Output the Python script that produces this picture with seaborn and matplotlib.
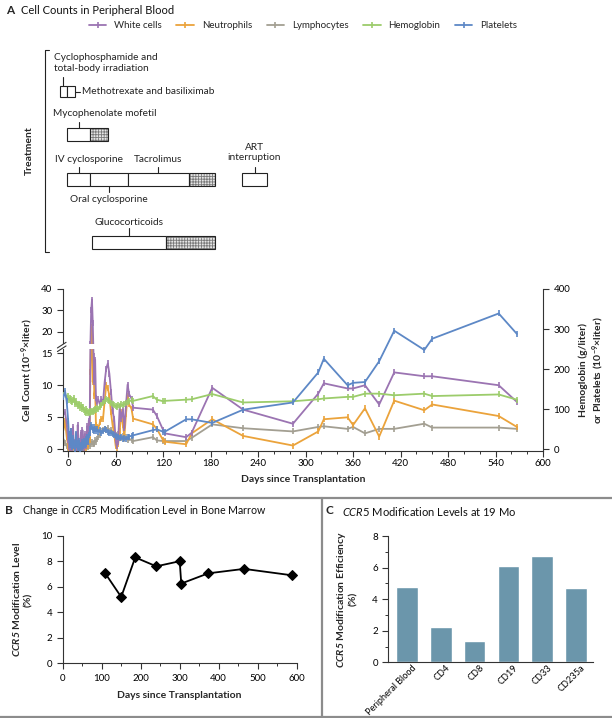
import numpy as np
import pandas as pd
import matplotlib
matplotlib.use("Agg")
import matplotlib.pyplot as plt
import matplotlib.patches as mpatches
import matplotlib.lines as mlines
import matplotlib.transforms as mtrans
from matplotlib.ticker import MultipleLocator, NullLocator
import seaborn as sns

# ---------------- data ----------------
days = [-6, -4, -2, 0, 1, 2, 3, 4, 5, 6, 7, 8, 9, 10, 11, 12, 13, 14, 15, 16,
        17, 18, 19, 20, 21, 22, 23, 24, 25, 26, 27, 28, 29, 30, 31, 32, 33, 34,
        35, 36, 38, 40, 42, 44, 46, 48, 50, 52, 54, 56, 58, 60, 61, 63, 65, 67,
        69, 71, 73, 75, 77, 80, 82,
        107, 112, 120, 122, 149, 156, 182, 221, 284, 316, 323, 353, 360, 375,
        393, 412, 450, 460, 544, 567]

white_cells = [5.6, 5.8, 4.0, 1.5, 0.3, 0.1, 2.8, 0.4, 0.1, 3.5, 1.2, 0.2, 0.1,
               2.2, 0.2, 3.8, 1.0, 0.2, 0.1, 2.6, 0.3, 3.0, 0.6, 0.2, 2.4, 0.5,
               1.8, 3.6, 1.2, 4.5, 2.5, 17.0, 30.0, 35.0, 24.0, 14.5, 10.5, 14.0,
               8.0, 7.2, 7.8, 7.0, 7.8, 7.4, 10.5, 12.6, 13.4, 11.8, 9.0, 6.0,
               4.8, 1.5, 0.6, 1.2, 6.6, 4.8, 6.2, 3.3, 7.0, 10.1, 8.6, 7.9, 6.5,
               6.2, 5.2, 3.0, 2.5, 1.9, 2.6, 9.6, 6.2, 4.0, 8.7, 10.3, 9.5, 9.5,
               10.0, 7.0, 12.0, 11.4, 11.4, 10.0, 7.4]

neutrophils = [3.0, 4.5, 2.0, 0.4, 0.1, 0.0, 1.5, 0.1, 0.0, 2.0, 0.3, 0.0, 0.0,
               1.0, 0.0, 2.2, 0.3, 0.0, 0.0, 1.2, 0.1, 1.8, 0.2, 0.0, 1.2, 0.2,
               0.8, 2.2, 0.6, 3.0, 1.5, 12.0, 20.0, 22.0, 10.5, 12.5, 8.4, 9.5,
               3.8, 3.5, 3.3, 4.2, 4.8, 4.8, 7.5, 10.0, 9.5, 8.4, 5.8, 3.8,
               2.5, 0.5, 0.2, 0.8, 2.8, 5.8, 3.8, 2.0, 5.5, 8.4, 7.0, 6.3, 4.8,
               3.9, 3.2, 1.4, 1.2, 0.8, 2.5, 4.7, 2.1, 0.6, 2.8, 4.7, 5.0, 3.8,
               6.4, 2.0, 7.6, 6.1, 7.0, 5.2, 3.5]

lymphocytes = [1.6, 1.0, 0.5, 0.2, 0.1, 0.1, 0.3, 0.1, 0.1, 0.4, 0.2, 0.1, 0.1,
               0.3, 0.1, 0.4, 0.2, 0.1, 0.1, 0.3, 0.1, 0.4, 0.2, 0.1, 0.4, 0.3,
               0.5, 0.6, 0.4, 0.8, 0.6, 1.0, 0.8, 1.2, 0.9, 1.0, 0.8, 1.4,
               1.2, 1.6, 2.0, 2.3, 2.8, 3.0, 3.2, 3.0, 3.3, 2.8, 3.1, 2.6,
               2.8, 2.3, 2.0, 2.4, 2.0, 1.8, 2.1, 1.6, 1.9, 1.5, 1.7, 1.4, 1.3,
               1.9, 1.4, 1.3, 1.3, 1.3, 1.8, 3.9, 3.3, 2.8, 3.5, 3.6, 3.2, 3.5,
               2.5, 3.2, 3.2, 4.0, 3.4, 3.4, 3.2]

hemoglobin = [136, 140, 128, 132, 124, 128, 120, 126, 118, 122, 128, 118, 112,
              120, 114, 108, 114, 110, 104, 110, 106, 100, 106, 98, 94, 100,
              92, 96, 90, 94, 92, 95, 93, 96, 94, 98, 96, 100, 98, 102, 100,
              106, 110, 116, 120, 126, 124, 120, 116, 114, 110, 108, 106, 110,
              108, 112, 110, 114, 116, 118, 120, 122, 121,
              133, 124, 120, 121, 124, 125, 138, 117, 120, 125, 127, 131, 131,
              139, 139, 135, 139, 133, 137, 124]

platelets = [130, 145, 120, 70, 30, 12, 45, 15, 5, 28, 8, 2, 15, 38, 10, 3, 22,
             6, 2, 12, 4, 18, 8, 20, 10, 25, 14, 30, 18, 35, 42, 50, 60, 56,
             48, 55, 45, 52, 46, 50, 44, 48, 42, 46, 50, 48, 44, 40, 42, 38,
             36, 34, 30, 32, 28, 30, 26, 28, 26, 30, 32, 34, 35,
             48, 50, 44, 44, 75, 75, 66, 99, 117, 192, 226, 160, 166, 168,
             220, 296, 248, 276, 339, 288]

# treatment bars (days since transplantation)
tx_label = ["Cyclophosphamide and\ntotal-body irradiation",
            "Methotrexate and basiliximab", "Mycophenolate mofetil",
            "IV cyclosporine", "Oral cyclosporine", "Tacrolimus",
            "ART\ninterruption", "Glucocorticoids"]
tx_start = [-11, -1, -1, -1, 27, 76, 220, 30]
tx_end = [-1, 9, 27, 27, 76, 152, 251, 124]
tx_taper_end = [None, None, 50, None, None, 186, None, 186]

# panel B
marrow_day = [108, 150, 186, 240, 300, 304, 373, 465, 587]
marrow_level = [7.1, 5.2, 8.3, 7.6, 8.0, 6.25, 7.05, 7.4, 6.9]

# panel C
cell_types = ["Peripheral Blood", "CD4", "CD8", "CD19", "CD33", "CD235a"]
efficiency = [4.8, 2.25, 1.35, 6.1, 6.75, 4.7]

# ---------------- style ----------------
sns.set_style("ticks")
plt.rcParams.update({
    "font.family": ["Lato", "DejaVu Sans"],
    "font.size": 7,
    "mathtext.fontset": "custom",
    "mathtext.default": "regular",
    "mathtext.rm": "Lato",
    "mathtext.it": "Lato:italic",
    "mathtext.bf": "Lato:italic:bold",
    "axes.edgecolor": "#333333",
    "axes.linewidth": 0.8,
    "xtick.color": "#333333",
    "ytick.color": "#333333",
    "xtick.labelcolor": "black",
    "ytick.labelcolor": "black",
    "xtick.labelsize": 7,
    "ytick.labelsize": 7,
    "xtick.major.size": 4,
    "ytick.major.size": 4,
    "xtick.minor.size": 2.5,
    "ytick.minor.size": 2.5,
    "xtick.major.width": 0.8,
    "ytick.major.width": 0.8,
    "xtick.minor.width": 0.7,
    "ytick.minor.width": 0.7,
    "hatch.linewidth": 0.6,
})

colors = {"White cells": "#9b74b2", "Neutrophils": "#eba33b",
          "Lymphocytes": "#a39f92", "Hemoglobin": "#9ccc6b",
          "Platelets": "#5d88c6"}

W, H = 612, 718
fig = plt.figure(figsize=(6.12, 7.18), dpi=100)


def fx(px):
    return px / W


def fy(py):
    return 1 - py / H


df = pd.DataFrame({"day": days, "White cells": white_cells,
                   "Neutrophils": neutrophils, "Lymphocytes": lymphocytes,
                   "Hemoglobin": hemoglobin, "Platelets": platelets})

# ---------------- panel A: main chart ----------------
ax = fig.add_axes([fx(62.7), fy(451), fx(543) - fx(62.7), (451 - 289) / H])
ax2 = ax.twinx()

line_kw = dict(marker="|", markersize=4.5, markeredgewidth=1.2, linewidth=1.3,
               sort=False, estimator=None, legend=False)
for name in ["Lymphocytes", "Neutrophils", "White cells"]:
    sns.lineplot(data=df, x="day", y=name, ax=ax, color=colors[name],
                 markeredgecolor=colors[name], **line_kw)
for name in ["Hemoglobin", "Platelets"]:
    sns.lineplot(data=df, x="day", y=name, ax=ax2, color=colors[name],
                 markeredgecolor=colors[name], **line_kw)

# broken left axis: 0-15 linear, then compressed 20-40
brk_v = [-10, 0, 15, 20, 40, 100]
brk_r = [-160, 0, 240, 294, 400, 718]


def fwd(v):
    return np.interp(v, brk_v, brk_r)


def inv(r):
    return np.interp(r, brk_r, brk_v)


ax.set_yscale("function", functions=(fwd, inv))
ax.set_ylim(inv(-4), 40)
ax.set_yticks([0, 5, 10, 15, 20, 30, 40])
ax.yaxis.set_minor_locator(NullLocator())
ax2.set_ylim(-4, 400)
ax2.set_yticks([0, 100, 200, 300, 400])
ax2.yaxis.set_minor_locator(NullLocator())

ax.set_xlim(-7, 600)
ax.set_xticks(np.arange(0, 601, 60))
ax.xaxis.set_minor_locator(MultipleLocator(20))
ax.tick_params(axis="x", which="both", pad=2)
for a in (ax, ax2):
    a.spines["top"].set_visible(False)
ax.spines["right"].set_visible(False)
ax2.spines["left"].set_visible(False)
ax2.spines["bottom"].set_visible(False)

ax.set_xlabel("Days since Transplantation", fontsize=7.5, fontweight="bold",
              labelpad=5)
ax.set_ylabel("Cell Count (10$^{-9}$×liter)", fontsize=7.5,
              fontweight="bold", labelpad=4)
ax2.set_ylabel("Hemoglobin (g/liter)\nor Platelets (10$^{-9}$×liter)",
               fontsize=7.5, fontweight="bold", labelpad=6)

# white gap (only across the early spike) and slashes marking the axis break
blend = mtrans.blended_transform_factory(ax2.transAxes, ax2.transData)
ax2.add_patch(mpatches.Rectangle((-0.02, 250), 0.17, 14, transform=blend,
                                 facecolor="white", edgecolor="none",
                                 zorder=2.4, clip_on=False))
for off in (0, 9):
    ax2.add_line(mlines.Line2D([-0.011, 0.007], [244 + off, 258 + off],
                               transform=blend, color="#333333", lw=0.8,
                               clip_on=False, zorder=3))

# legend
handles = [mlines.Line2D([], [], color=colors[n], marker="|", markersize=4.5,
                         markeredgewidth=1.2, lw=1.3) for n in colors]
fig.legend(handles, list(colors), loc="center",
           bbox_to_anchor=(fx(303), fy(25.5)), ncol=5, frameon=False,
           fontsize=7, handlelength=1.8, handletextpad=0.8,
           columnspacing=1.5)

# ---------------- panel A: treatment schedule ----------------
axt = fig.add_axes([fx(62.7), fy(252), fx(543) - fx(62.7), (252 - 50) / H])
axt.set_xlim(-7, 600)
axt.set_ylim(252, 50)
axt.axis("off")

rows = [(85.7, 97.3), (85.7, 97.3), (128.3, 141), (172.7, 185.7),
        (172.7, 185.7), (172.7, 185.7), (172.7, 185.7), (235.7, 249)]
for i in range(len(tx_label)):
    y0, y1 = rows[i]
    axt.add_patch(mpatches.Rectangle((tx_start[i], y0), tx_end[i] - tx_start[i],
                                     y1 - y0, facecolor="white",
                                     edgecolor="#222222", lw=0.8,
                                     clip_on=False))
    if tx_taper_end[i] is not None:
        axt.add_patch(mpatches.Rectangle((tx_end[i], y0),
                                         tx_taper_end[i] - tx_end[i], y1 - y0,
                                         facecolor="#e6e6e6", edgecolor="#7a7a7a",
                                         hatch="++++++", lw=0, clip_on=False))
        axt.add_patch(mpatches.Rectangle((tx_end[i], y0),
                                         tx_taper_end[i] - tx_end[i], y1 - y0,
                                         fill=False, edgecolor="#222222",
                                         lw=0.8, clip_on=False))

tk = dict(color="#222222", lw=0.8, clip_on=False)
txt = dict(fontsize=7.3, color="#222222", clip_on=False)


def mid(i):
    return (tx_start[i] + tx_end[i]) / 2


# cyclophosphamide
axt.plot([-6.3, -6.3], [76.7, 85.7], **tk)
axt.text(-18, 63, tx_label[0], ha="left", va="center", linespacing=1.25, **txt)
# methotrexate
axt.plot([tx_end[1], 14.5], [91.5, 91.5], **tk)
axt.text(18, 91.5, tx_label[1], ha="left", va="center", **txt)
# mycophenolate
axt.plot([mid(2), mid(2)], [121.7, 128.3], **tk)
axt.text(-19, 114, tx_label[2], ha="left", va="center", **txt)
# IV cyclosporine
axt.plot([mid(3), mid(3)], [166.7, 172.7], **tk)
axt.text(-16.8, 159, tx_label[3], ha="left", va="center", **txt)
# oral cyclosporine
axt.plot([mid(4), mid(4)], [185.7, 191.7], **tk)
axt.text(2, 199.3, tx_label[4], ha="left", va="center", **txt)
# tacrolimus
axt.plot([mid(5), mid(5)], [166.7, 172.7], **tk)
axt.text(83.4, 159, tx_label[5], ha="left", va="center", **txt)
# ART interruption
axt.plot([mid(6), mid(6)], [166.7, 172.7], **tk)
axt.text(mid(6), 152.5, tx_label[6], ha="center", va="center",
         linespacing=1.25, **txt)
# glucocorticoids
axt.plot([mid(7), mid(7)], [228, 235.7], **tk)
axt.text(33.7, 222.7, tx_label[7], ha="left", va="center", **txt)

# bracket + label
axt.plot([-23.7, -29.4, -29.4, -23.7], [50, 50, 252, 252], **tk)
axt.text(-48.5, 151, "Treatment", rotation=90, ha="center", va="center",
         fontsize=7.5, fontweight="bold", clip_on=False)

# panel A title
fig.text(fx(6), fy(11), "A", fontsize=8.5, fontweight="bold", va="center")
fig.text(fx(21), fy(11), "Cell Counts in Peripheral Blood", fontsize=8,
         va="center", color="#111111")

# ---------------- panel B ----------------
axb = fig.add_axes([fx(62.7), fy(663.3), fx(296.7) - fx(62.7),
                    (663.3 - 535.7) / H])
sns.lineplot(x=marrow_day, y=marrow_level, ax=axb, color="black", marker="D",
             markersize=5, markeredgecolor="black", linewidth=1.3,
             sort=False, estimator=None)
axb.set_xlim(0, 600)
axb.set_ylim(0, 10)
axb.set_xticks(np.arange(0, 601, 100))
axb.xaxis.set_minor_locator(MultipleLocator(50))
axb.set_yticks(np.arange(0, 11, 2))
axb.spines["top"].set_visible(False)
axb.spines["right"].set_visible(False)
axb.set_xlabel("Days since Transplantation", fontsize=7.5, fontweight="bold",
               labelpad=6)
axb.set_ylabel("$\\mathbf{CCR5}$ Modification Level\n(%)", fontsize=7.5,
               fontweight="bold", labelpad=6)
fig.text(fx(5), fy(510), "B", fontsize=8.5, fontweight="bold", va="center")
fig.text(fx(21.5), fy(510),
         "Change in $\\mathit{CCR5}$ Modification Level in Bone Marrow",
         fontsize=7.7, va="center", color="#111111")

# ---------------- panel C ----------------
axc = fig.add_axes([fx(388.3), fy(662.3), fx(593) - fx(388.3),
                    (662.3 - 536) / H])
sns.barplot(x=cell_types, y=efficiency, ax=axc, color="#6b96ab",
            saturation=1, width=0.64)
axc.set_xlim(-0.55, 5.5)
axc.set_ylim(0, 8)
axc.set_yticks(np.arange(0, 9, 2))
axc.yaxis.set_minor_locator(MultipleLocator(1))
axc.spines["top"].set_visible(False)
axc.spines["right"].set_visible(False)
axc.tick_params(axis="x", length=0, pad=3)
shift = mtrans.ScaledTranslation(0.08, 0.0, fig.dpi_scale_trans)
for lab in axc.get_xticklabels():
    lab.set_rotation(45)
    lab.set_ha("right")
    lab.set_va("center")
    lab.set_rotation_mode("anchor")
    lab.set_fontsize(6.6)
    lab.set_transform(lab.get_transform() + shift)
axc.set_ylabel("$\\mathbf{CCR5}$ Modification Efficiency\n(%)", fontsize=7.5,
               fontweight="bold", labelpad=10)
fig.text(fx(326), fy(511), "C", fontsize=8.5, fontweight="bold", va="center")
fig.text(fx(342), fy(511), "$\\mathit{CCR5}$ Modification Levels at 19 Mo",
         fontsize=8, va="center", color="#111111")

# panel frame lines
frame = dict(color="#8c8c8c", lw=1.6)
fig.add_artist(mlines.Line2D([0, 1], [fy(498), fy(498)], **frame))
fig.add_artist(mlines.Line2D([fx(322), fx(322)], [fy(498), 0], **frame))
fig.add_artist(mlines.Line2D([0, 1], [fy(716.8), fy(716.8)], **frame))

fig.savefig("out.png", dpi=100)
